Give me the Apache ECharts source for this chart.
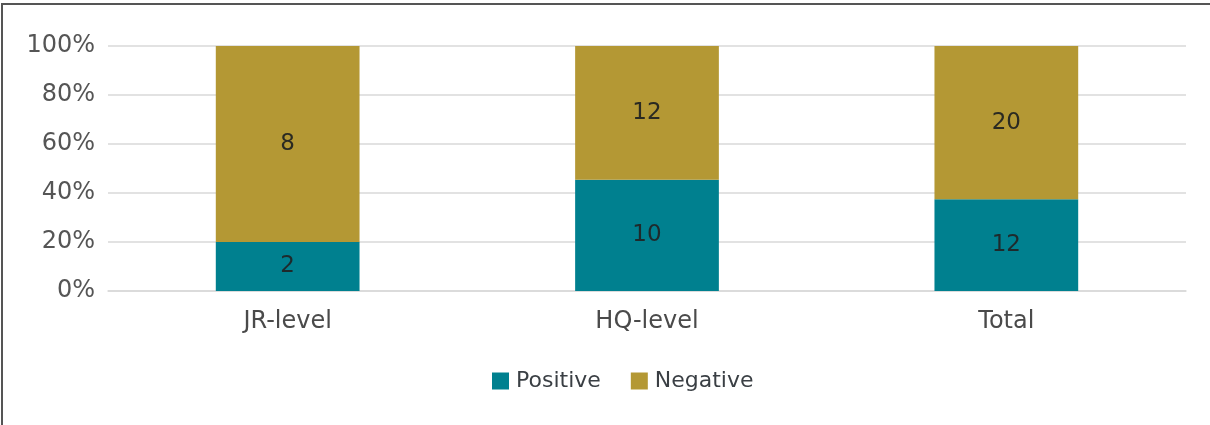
<!DOCTYPE html>
<html>
<head>
<meta charset="utf-8">
<script src="https://cdn.jsdelivr.net/npm/echarts@6/dist/echarts.min.js"></script>
<style>
html,body{margin:0;padding:0;background:#fff;}
#frame{position:absolute;left:1px;top:3px;width:1209px;height:422px;border-top:2px solid #555;border-left:2px solid #555;box-sizing:border-box;}
#chart{position:absolute;left:0;top:0;width:1210px;height:425px;}
</style>
</head>
<body>
<div id="frame"></div>
<div id="chart"></div>
<script>
const categories = ['JR-level', 'HQ-level', 'Total'];
const positive = [2, 10, 12];
const negative = [8, 12, 20];
const yTicks = [0, 20, 40, 60, 80, 100];

const totals = categories.map((c, i) => positive[i] + negative[i]);
const pct = (arr) => arr.map((v, i) => ({ value: v / totals[i] * 100, raw: v }));

const font = 'DejaVu Sans';
const chart = echarts.init(document.getElementById('chart'));
chart.setOption({
  animation: false,
  backgroundColor: 'transparent',
  grid: { left: 108, right: 24, top: 46, bottom: 134 },
  legend: {
    data: ['Positive', 'Negative'],
    bottom: 28,
    left: 487,
    itemWidth: 17, itemHeight: 17, itemGap: 30,
    icon: 'rect',
    textStyle: { fontFamily: font, fontSize: 22, color: '#3a3f44', padding: [0, 0, 0, 2] }
  },
  xAxis: {
    type: 'category',
    data: categories,
    axisLine: { show: true, lineStyle: { color: '#d9d9d9', width: 1.5 } },
    axisTick: { show: false },
    axisLabel: { fontFamily: font, fontSize: 24, color: '#4a4a4a', margin: 19 }
  },
  yAxis: {
    type: 'value',
    min: 0, max: 100, interval: 20,
    axisLine: { show: false },
    axisTick: { show: false },
    splitLine: { lineStyle: { color: '#d9d9d9', width: 1.5 } },
    axisLabel: {
      fontFamily: font, fontSize: 24, color: '#555', margin: 13,
      formatter: (v) => yTicks.includes(v) ? v + '%' : ''
    }
  },
  series: [
    {
      name: 'Positive', type: 'bar', stack: 'all', barWidth: '40%',
      itemStyle: { color: '#00808F' },
      label: { show: true, position: 'inside', fontFamily: font, fontSize: 23, color: '#1e2a2c',
        formatter: (p) => p.data.raw },
      data: pct(positive)
    },
    {
      name: 'Negative', type: 'bar', stack: 'all', barWidth: '40%',
      itemStyle: { color: '#B49834' },
      label: { show: true, position: 'inside', fontFamily: font, fontSize: 23, color: '#2a2a22',
        formatter: (p) => p.data.raw },
      data: pct(negative)
    }
  ]
});
</script>
</body>
</html>
